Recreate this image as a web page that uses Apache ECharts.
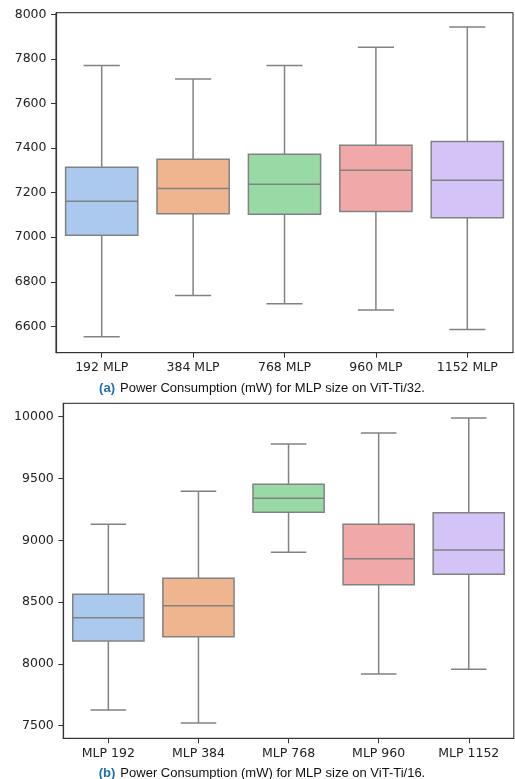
<!DOCTYPE html>
<html>
<head>
<meta charset="utf-8">
<style>
html,body{margin:0;padding:0;background:#fff;}
#chart{width:515px;height:779px;}
</style>
<script src="https://cdn.jsdelivr.net/npm/echarts@6/dist/echarts.min.js"></script>
</head>
<body>
<div id="chart"></div>
<script>
// ---- Data ----
const categoriesA = ['192 MLP', '384 MLP', '768 MLP', '960 MLP', '1152 MLP'];
// [min, Q1, median, Q3, max]
const boxesA = [
  [6553, 7009, 7161, 7314, 7770],
  [6738, 7105, 7218, 7350, 7710],
  [6701, 7103, 7238, 7372, 7770],
  [6673, 7115, 7300, 7413, 7852],
  [6586, 7087, 7256, 7429, 7943]
];
const ticksA = [6600, 6800, 7000, 7200, 7400, 7600, 7800, 8000];

const categoriesB = ['MLP 192', 'MLP 384', 'MLP 768', 'MLP 960', 'MLP 1152'];
const boxesB = [
  [7627, 8185, 8374, 8563, 9129],
  [7522, 8220, 8471, 8693, 9396],
  [8903, 9226, 9340, 9453, 9779],
  [7918, 8641, 8851, 9129, 9868],
  [7956, 8725, 8921, 9223, 9989]
];
const ticksB = [7500, 8000, 8500, 9000, 9500, 10000];

const colors = ['#abc9ee', '#efb58f', '#98d9a6', '#f0a9a8', '#d4c3f6'];
const captionA = 'Power Consumption (mW) for MLP size on ViT-Ti/32.';
const captionB = 'Power Consumption (mW) for MLP size on ViT-Ti/16.';

// ---- Rendering ----
const lineGray = '#828282';
function renderBox(params, api) {
  const idx = api.value(0);
  const mn = api.value(1), q1 = api.value(2), md = api.value(3), q3 = api.value(4), mx = api.value(5);
  const band = api.size([1, 0])[0];
  const bw = band * 0.79;
  const cw = bw / 2;
  const pMin = api.coord([idx, mn]);
  const pQ1 = api.coord([idx, q1]);
  const pMd = api.coord([idx, md]);
  const pQ3 = api.coord([idx, q3]);
  const pMax = api.coord([idx, mx]);
  const x = pMd[0];
  const ls = {stroke: lineGray, lineWidth: 1.5};
  return {
    type: 'group',
    children: [
      {type: 'line', shape: {x1: x, y1: pQ3[1], x2: x, y2: pMax[1]}, style: ls},
      {type: 'line', shape: {x1: x, y1: pQ1[1], x2: x, y2: pMin[1]}, style: ls},
      {type: 'line', shape: {x1: x - cw / 2, y1: pMax[1], x2: x + cw / 2, y2: pMax[1]}, style: ls},
      {type: 'line', shape: {x1: x - cw / 2, y1: pMin[1], x2: x + cw / 2, y2: pMin[1]}, style: ls},
      {type: 'rect', shape: {x: x - bw / 2, y: pQ3[1], width: bw, height: pQ1[1] - pQ3[1]},
        style: {fill: colors[idx], stroke: lineGray, lineWidth: 1.5}},
      {type: 'line', shape: {x1: x - bw / 2, y1: pMd[1], x2: x + bw / 2, y2: pMd[1]}, style: ls}
    ]
  };
}

function toData(boxes) {
  return boxes.map((b, i) => [i].concat(b));
}

const axisLineStyle = {show: true, lineStyle: {color: '#333', width: 1.2}};
const tickStyle = {show: true, length: 5, lineStyle: {color: '#333', width: 1}};
const labelStyle = {color: '#222', fontFamily: 'DejaVu Sans', fontSize: 12.5};
const plainNum = v => String(v);

const richCaption = {
  b: {color: '#1f6cb0', fontWeight: 'bold', fontFamily: 'Liberation Sans', fontSize: 13},
  t: {color: '#111', fontWeight: 'normal', fontFamily: 'Liberation Sans', fontSize: 13}
};

const chart = echarts.init(document.getElementById('chart'), null, {renderer: 'canvas'});
chart.setOption({
  animation: false,
  backgroundColor: '#fff',
  title: [
    {
      text: '{b|(a)} {t|' + captionA + '}',
      left: 262, top: 379.5, textAlign: 'center', padding: 0,
      textStyle: {fontWeight: 'normal', rich: richCaption}
    },
    {
      text: '{b|(b)} {t|' + captionB + '}',
      left: 262, top: 764.5, textAlign: 'center', padding: 0,
      textStyle: {fontWeight: 'normal', rich: richCaption}
    }
  ],
  grid: [
    {left: 56, top: 12.7, width: 457, height: 340, show: true, borderColor: '#222', borderWidth: 1, containLabel: false},
    {left: 63.3, top: 403.3, width: 450.5, height: 335, show: true, borderColor: '#222', borderWidth: 1, containLabel: false}
  ],
  xAxis: [
    {type: 'category', gridIndex: 0, data: categoriesA, boundaryGap: true,
      axisLine: axisLineStyle, axisTick: Object.assign({alignWithLabel: true}, tickStyle),
      axisLabel: Object.assign({margin: 9, interval: 0}, labelStyle), splitLine: {show: false}},
    {type: 'category', gridIndex: 1, data: categoriesB, boundaryGap: true,
      axisLine: axisLineStyle, axisTick: Object.assign({alignWithLabel: true}, tickStyle),
      axisLabel: Object.assign({margin: 9, interval: 0}, labelStyle), splitLine: {show: false}}
  ],
  yAxis: [
    {type: 'value', gridIndex: 0, min: 6482, max: 8007,
      axisLine: axisLineStyle,
      axisTick: Object.assign({customValues: ticksA}, tickStyle),
      axisLabel: Object.assign({customValues: ticksA, margin: 9.5, formatter: plainNum}, labelStyle),
      splitLine: {show: false}},
    {type: 'value', gridIndex: 1, min: 7398, max: 10108,
      axisLine: axisLineStyle,
      axisTick: Object.assign({customValues: ticksB}, tickStyle),
      axisLabel: Object.assign({customValues: ticksB, margin: 9.5, formatter: plainNum}, labelStyle),
      splitLine: {show: false}}
  ],
  series: [
    {type: 'custom', xAxisIndex: 0, yAxisIndex: 0, data: toData(boxesA),
      encode: {x: 0, y: [1, 2, 3, 4, 5]}, renderItem: renderBox, clip: false},
    {type: 'custom', xAxisIndex: 1, yAxisIndex: 1, data: toData(boxesB),
      encode: {x: 0, y: [1, 2, 3, 4, 5]}, renderItem: renderBox, clip: false}
  ]
});
</script>
</body>
</html>
